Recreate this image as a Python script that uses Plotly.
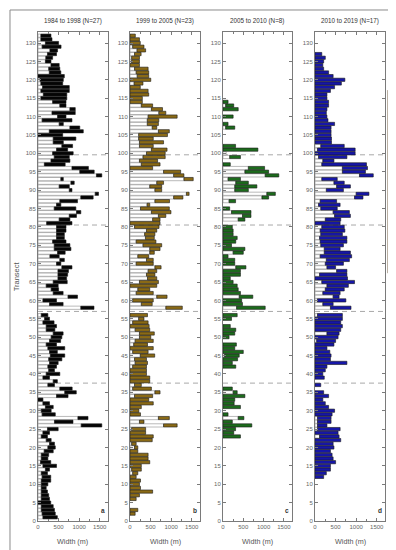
import plotly.graph_objects as go

transects = list(range(1, 133))
N = None

# Panel a: 1984 to 1998 (N=27) — minimum (white) and maximum width per transect, m
a_min = [120,100,80,80,0,80,80,80,80,80,80,100,80,180,120,60,80,80,150,240,
         280,200,80,120,230,1050,400,970,100,80,180,120,0,450,650,530,240,370,120,200,
         260,240,280,260,300,280,240,200,280,320,370,200,200,120,160,80,N,1040,280,120,
         730,370,320,200,370,485,485,485,580,450,530,290,475,395,395,355,450,450,450,450,
         210,515,760,935,395,450,530,1040,1390,760,515,800,555,1420,1015,825,155,315,395,355,
         450,580,370,370,0,275,775,515,100,475,340,775,530,355,70,130,70,110,70,50,
         0,275,260,315,180,190,230,290,100,180,70,70]
a_max = [470,420,400,370,310,280,260,230,200,240,310,310,230,280,450,310,240,260,370,420,
         400,320,230,280,490,1550,850,1215,420,320,370,280,120,730,930,830,400,470,280,530,
         400,450,490,580,650,470,650,450,550,580,610,410,450,390,280,240,N,1360,610,450,
         960,610,500,490,710,695,720,740,825,555,640,515,660,800,775,680,640,640,680,680,
         825,775,935,1040,920,555,960,1340,1470,825,760,880,615,1550,1365,1225,660,775,760,855,
         720,840,615,920,600,1100,1015,615,825,680,905,905,680,680,700,700,760,760,600,615,
         640,555,530,515,315,355,450,475,560,500,340,315]

# Panel b: 1999 to 2005 (N=23)
b_min = [N,0,0,N,N,0,0,0,0,0,0,0,65,40,0,0,0,0,0,110,
         40,0,0,0,40,815,230,690,0,0,0,0,0,110,605,65,110,0,0,0,
         0,65,125,110,250,65,0,90,125,230,230,125,0,65,210,0,N,870,275,65,
         650,150,190,0,230,425,400,440,605,150,400,190,480,480,315,150,375,355,400,110,
         0,550,690,520,255,415,605,1060,1370,605,480,650,1310,1060,815,0,275,230,315,400,
         520,230,230,210,210,690,540,420,420,440,700,520,275,0,0,0,0,0,100,0,
         175,150,110,0,40,40,110,170,65,0,0,0]
b_max = [N,125,190,N,N,150,230,550,255,230,255,150,190,275,275,480,440,440,190,190,
         150,540,565,380,380,1145,340,955,255,215,275,565,455,550,730,520,275,480,480,400,
         400,400,425,400,600,440,565,425,565,505,590,480,465,440,340,425,N,1270,540,565,
         900,565,480,650,690,650,605,650,755,565,565,455,590,730,770,630,590,605,650,705,
         730,730,870,995,955,480,960,1285,1435,770,770,815,1535,1310,1230,550,730,670,855,855,
         900,565,815,565,910,955,650,690,700,1145,870,790,550,300,300,455,440,250,315,505,
         455,455,440,230,230,230,270,380,340,250,230,130]

# Panel c: 2005 to 2010 (N=8)
c_min = [N]*22 + [0,0,0,0,0,375,0,N,0,0,0,0,250,0,N,N,N,N,N,0,
         0,0,40,0,0,0,N,0,0,0,0,N,0,0,N,335,0,0,400,0,
         0,0,0,0,0,0,315,0,0,0,250,0,0,0,0,0,0,0,N,375,
         480,210,0,N,150,960,1080,290,290,315,125,1040,540,625,0,N,165,80,0,0,
         N,N,N,N,65,0,N,0,N,0,65,0] + [N]*18
c_max = [N]*22 + [430,265,310,710,230,515,125,N,430,275,290,540,350,230,N,N,N,N,N,315,
         230,360,400,500,290,330,N,150,290,315,180,N,210,350,N,1040,480,460,735,430,
         375,350,250,180,430,430,565,290,290,125,500,540,210,315,350,250,250,230,N,540,
         690,690,165,N,310,1125,1290,625,835,625,430,1375,1125,1025,180,N,430,80,860,310,
         N,N,N,N,290,125,N,250,N,375,265,125] + [N]*18

# Panel d: 2010 to 2019 (N=17)
d_min = [N]*11 + [0,0,0,0,0,0,0,0,0,0,0,110,0,60,60,60,60,0,0,
         0,0,0,0,0,N,0,N,0,0,0,0,0,0,0,0,0,0,40,0,
         290,0,0,0,0,60,N,375,190,60,440,190,250,290,165,0,110,525,290,250,
         275,125,225,225,140,125,110,140,125,165,0,250,475,440,140,85,125,960,1000,275,
         525,460,165,1080,665,665,165,190,85,0,60,140,0,0,0,0,0,0,0,0,
         0,0,0,0,0,0,0,0,0,0,0,0,0,0,0,0,0] + [N]*5
d_max = [N]*11 + [210,275,375,375,500,440,415,375,460,440,625,585,560,610,290,390,390,415,475,
         330,250,190,330,210,N,140,N,225,190,250,290,775,375,390,360,290,460,500,560,
         585,625,665,625,665,665,N,875,440,750,585,610,710,810,960,790,775,775,500,690,
         835,890,860,610,690,775,775,665,725,710,610,625,860,835,540,610,525,1165,1310,690,
         860,710,540,1415,1225,1275,1250,460,775,975,975,710,400,400,390,390,390,475,315,290,
         275,290,330,330,290,290,375,475,640,725,440,330,210,190,210,250,165] + [N]*5

titles = ["1984 to 1998 (N=27)", "1999 to 2005 (N=23)", "2005 to 2010 (N=8)", "2010 to 2019 (N=17)"]
colors = ["#050505", "#8a6a16", "#1c6b1c", "#1616a8"]
letters = ["a", "b", "c", "d"]
mins = [a_min, b_min, c_min, d_min]
maxs = [a_max, b_max, c_max, d_max]
divider_lines = [37.5, 57, 80.5, 99.6]
berm_extent = [67.4, 117.2]
Y_RANGE = [0, 133]

domains = [[0.0, 0.2017], [0.2651, 0.4669], [0.5331, 0.7320], [0.7983, 1.0]]
FONT = "Liberation Sans, Arial, sans-serif"

def to_paper(t):
    return (t - Y_RANGE[0]) / (Y_RANGE[1] - Y_RANGE[0])

fig = go.Figure()
for i in range(4):
    xa = "x" if i == 0 else f"x{i+1}"
    ya = "y" if i == 0 else f"y{i+1}"
    ys, wmin, wdiff, base = [], [], [], []
    for t, lo, hi in zip(transects, mins[i], maxs[i]):
        if hi is None:
            continue
        lo = lo or 0
        ys.append(t)
        wmin.append(lo if lo > 0 else None)
        wdiff.append(hi - lo if hi - lo > 0 else None)
        base.append(lo)
    fig.add_trace(go.Bar(y=ys, x=wmin, orientation="h", width=0.88,
                         marker=dict(color="white", line=dict(color="#8c8c8c", width=0.6)),
                         xaxis=xa, yaxis=ya, hoverinfo="skip", showlegend=False))
    fig.add_trace(go.Bar(y=ys, x=wdiff, base=base, orientation="h", width=0.88,
                         marker=dict(color=colors[i], line=dict(color="#1a1a1a", width=0.6)),
                         xaxis=xa, yaxis=ya, showlegend=False))

    axis_common = dict(showline=True, linecolor="#7a7a7a", linewidth=1, mirror="ticks",
                       ticks="inside", ticklen=3, tickcolor="#7a7a7a", showgrid=False, zeroline=False,
                       tickfont=dict(family=FONT, size=6, color="#666666"))
    xkey = "xaxis" if i == 0 else f"xaxis{i+1}"
    ykey = "yaxis" if i == 0 else f"yaxis{i+1}"
    fig.update_layout(**{
        xkey: dict(domain=domains[i], anchor=ya, range=[0, 1700], tickvals=[0, 500, 1000, 1500],
                   minor=dict(dtick=250, ticks="inside", ticklen=2, tickcolor="#7a7a7a"),
                   **axis_common),
        ykey: dict(anchor=xa, range=Y_RANGE, dtick=5, tick0=0, **axis_common),
    })
    cx = (domains[i][0] + domains[i][1]) / 2
    fig.add_annotation(x=cx, y=1.0225, xref="paper", yref="paper", text=titles[i], showarrow=False,
                       xanchor="center", yanchor="middle",
                       font=dict(family=FONT, size=6.3, color="#333333"))
    fig.add_annotation(x=cx, y=-0.041, xref="paper", yref="paper", text="Width (m)", showarrow=False,
                       xanchor="center", yanchor="middle",
                       font=dict(family=FONT, size=7.2, color="#555555"))
    fig.add_annotation(x=0.93, y=0.022, xref=f"{xa} domain", yref=f"{ya} domain", text=f"<b>{letters[i]}</b>",
                       showarrow=False, xanchor="center", yanchor="middle",
                       font=dict(family=FONT, size=6.5, color="#333333"))
    for yv in divider_lines:
        fig.add_shape(type="line", xref=f"{xa} domain", yref=ya, x0=0, x1=1, y0=yv, y1=yv,
                      line=dict(color="#a8a8a8", width=1, dash="5px,4px"), layer="below")

fig.add_annotation(x=-0.061, y=0.5, xref="paper", yref="paper", text="Transect", textangle=-90,
                   showarrow=False, xanchor="center", yanchor="middle",
                   font=dict(family=FONT, size=7.5, color="#555555"))
fig.add_shape(type="line", xref="paper", yref="paper", x0=1.0086, x1=1.0086,
              y0=to_paper(berm_extent[0]), y1=to_paper(berm_extent[1]),
              line=dict(color="#7d6a52", width=1))
fig.add_annotation(x=1.021, y=to_paper((berm_extent[0] + berm_extent[1]) / 2 + 1.5),
                   xref="paper", yref="paper",
                   text="Maximum berm extent", textangle=-90, showarrow=False,
                   xanchor="center", yanchor="middle",
                   font=dict(family=FONT, size=6.3, color="#7a5a34"))
fig.add_shape(type="rect", xref="paper", yref="paper", x0=-0.0807, x1=1.049, y0=-0.0716, y1=1.045,
              line=dict(color="#8a8a8a", width=1))

fig.update_layout(width=396, height=550, margin=dict(l=30, r=19, t=24, b=37),
                  paper_bgcolor="white", plot_bgcolor="white", barmode="overlay",
                  showlegend=False, font=dict(family=FONT))
fig.write_html("out.html")
